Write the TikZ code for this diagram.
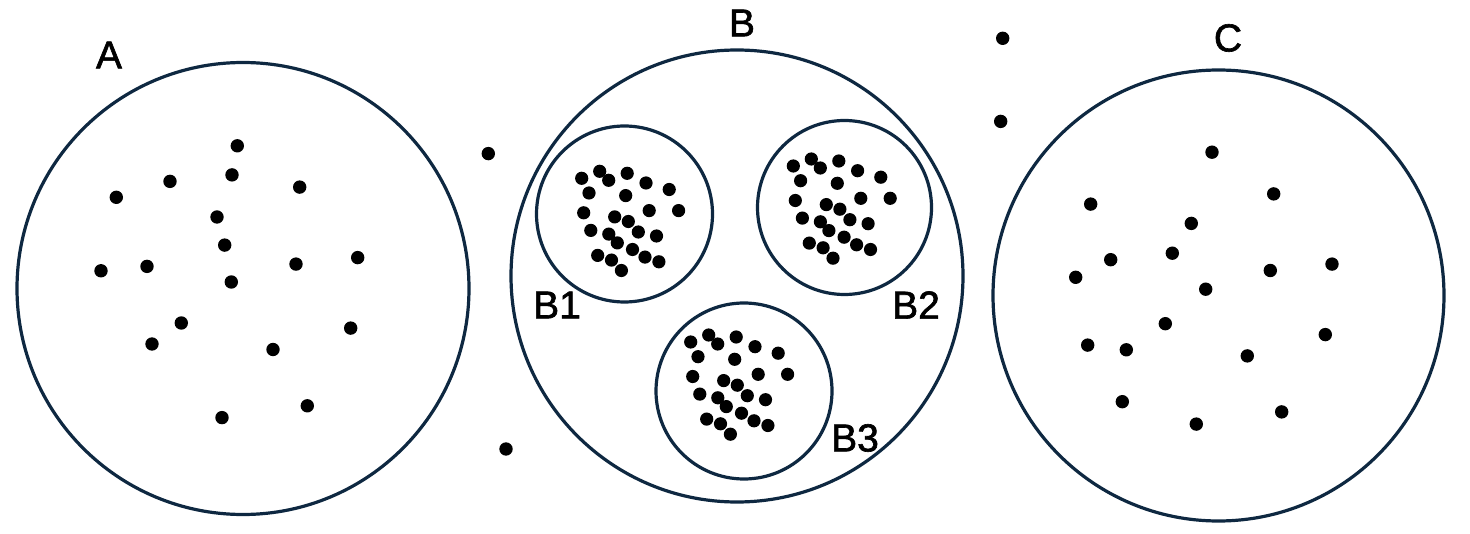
\documentclass[tikz,border=0pt]{standalone}
\usepackage{fontspec}
\setmainfont{Liberation Sans}
\newfontfamily\lblfont{Liberation Sans}[FakeBold=1.6]
\definecolor{ringblue}{HTML}{0E2841}
\tikzset{ring/.style={line width=3.2pt,draw=ringblue},
         lbl/.style={inner sep=0pt,font=\lblfont\fontsize{39}{40}\selectfont}}

\begin{document}
\begin{tikzpicture}[x=1pt,y=-1pt]
			\useasboundingbox (0,0) rectangle (1470,534);
			\coordinate (A) at (243,288.5);
			\coordinate (B) at (737,276);
			\coordinate (C) at (1218.5,295.5);
			\coordinate (B1) at (624.5,214);
			\coordinate (B2) at (844.5,207.5);
			\coordinate (B3) at (744,391);
			\draw[ring] (A) circle (226pt);
			\draw[ring] (B) circle (226pt);
			\draw[ring] (C) circle (225.5pt);
			\draw[ring] (B1) circle (88pt);
			\draw[ring] (B2) circle (87pt);
			\draw[ring] (B3) circle (88pt);
			
			% loose dots in A
			\foreach \x/\y in {237.3/145.8,232/174.9,170/181.4,116.3/197.3,299.7/187.1,217/217,
				224.7/245.1,101/270.8,147/266.4,296/264.1,357.7/257.6,231.3/282,181.3/323,
				152/344,273/349.5,350.7/328.1,307.3/405.8,222/417.6}
				\fill (\x,\y) circle (6.7pt);
			% loose dots in C
			\foreach \x/\y in {1212/152.2,1273.7/193.9,1090.7/204.1,1191.3/223.4,1172.3/253.2,
				1110.7/259.7,1075.7/277.3,1270.3/270.5,1332/264.1,1205.7/289.2,1165.3/323.7,
				1087.7/345.1,1126.3/349.8,1247.3/355.9,1325.3/334.6,1122.3/401.7,1196.3/424.1,
				1281.7/411.9}
				\fill (\x,\y) circle (6.7pt);
			% dots outside
			\foreach \x/\y in {488.3/153.6,506/449,1002.7/38.3,1000.7/121.4}
				\fill (\x,\y) circle (6.7pt);
			% the same cluster in B1, B2, B3
			\foreach \ax/\ay in {581.7/178.3,793.3/166,690.7/342}
				\foreach \dx/\dy in {0/0,18/-7,27/2,45.5/-5,64.3/4.7,87.5/11.2,7.3/14.7,44/17.3,
					2/34.5,67.5/32.3,96.9/32.3,33/38.6,46.6/43.2,9.1/52.1,27.1/55.8,56.6/53.7,
					74.8/57.7,35.6/64.6,50.8/71.2,16/77.1,29.8/81.8,63.3/78.8,77.2/83.5,39.7/92.2}
					\fill (\ax+\dx,\ay+\dy) circle (6.6pt);
			
			\node[lbl] (labA) at (109,55) {A};
			\node[lbl] (labB) at (742,23) {B};
			\node[lbl] (labC) at (1228,38) {C};
			\node[lbl] (labB1) at (557,305) {B1};
			\node[lbl] (labB2) at (916,305) {B2};
			\node[lbl] (labB3) at (855,438) {B3};
		\end{tikzpicture}
\end{document}
